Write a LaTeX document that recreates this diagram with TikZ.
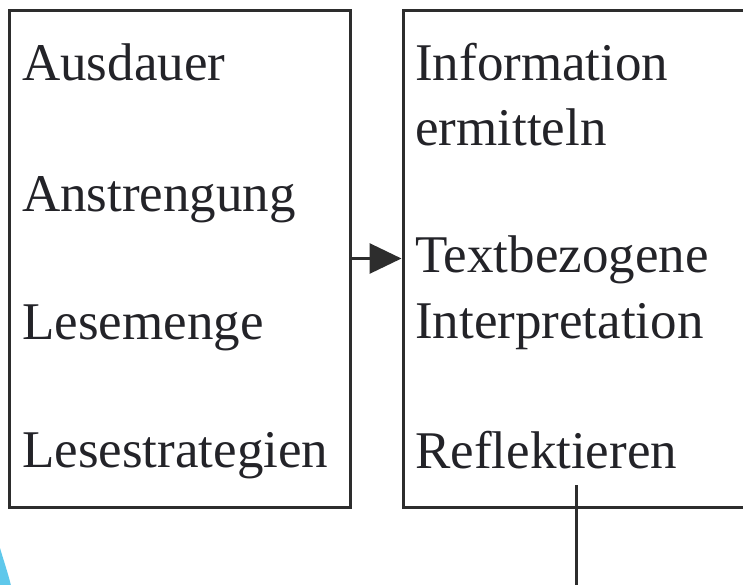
\documentclass[tikz,border=0pt]{standalone}
\usepackage{fontspec}
\setmainfont{Liberation Serif}
\usetikzlibrary{arrows.meta}
\definecolor{linie}{RGB}{45,45,45}
\definecolor{schrift}{RGB}{35,35,40}
\definecolor{blau}{RGB}{95,200,235}
\tikzset{
    kasten/.style={draw=linie, line width=3pt, rectangle, inner sep=0pt},
    eintrag/.style={anchor=base west, inner sep=0pt, text=schrift, font=\fontsize{53}{60}\selectfont}
}
\begin{document}
\begin{tikzpicture}[x=1pt,y=-1pt]
            \clip (0,0) rectangle (743,584);
            \fill[white] (0,0) rectangle (743,584);
            \fill[blau] (0,548) .. controls (5,565) and (9,576) .. (12,590) -- (0,590) -- cycle;

            \node[kasten, minimum width=341pt, minimum height=497pt] (links) at (179.5,258.5) {};
            \node[kasten, minimum width=377pt, minimum height=497pt] (rechts) at (591.5,258.5) {};

            \foreach \wort/\y/\name in {Ausdauer/80/aus, Anstrengung/211/ans, Lesemenge/339/menge, Lesestrategien/467/strat}
                \node[eintrag] (\name) at (22,\y) {\wort};

            \foreach \wort/\y/\name in {Information/80/info, ermitteln/145/ermit, Textbezogene/272/text, Interpretation/338/inter, Reflektieren/468/refl}
                \node[eintrag] (\name) at (415,\y) {\wort};

            \draw[linie, line width=3pt, -{Triangle[length=32pt,width=30pt]}] (links.east) -- (rechts.west);

            \coordinate (ausgang) at (576,485);
            \coordinate (unten) at (576,590);
            \draw[linie, line width=3pt] (ausgang) -- (unten);
        \end{tikzpicture}
\end{document}
